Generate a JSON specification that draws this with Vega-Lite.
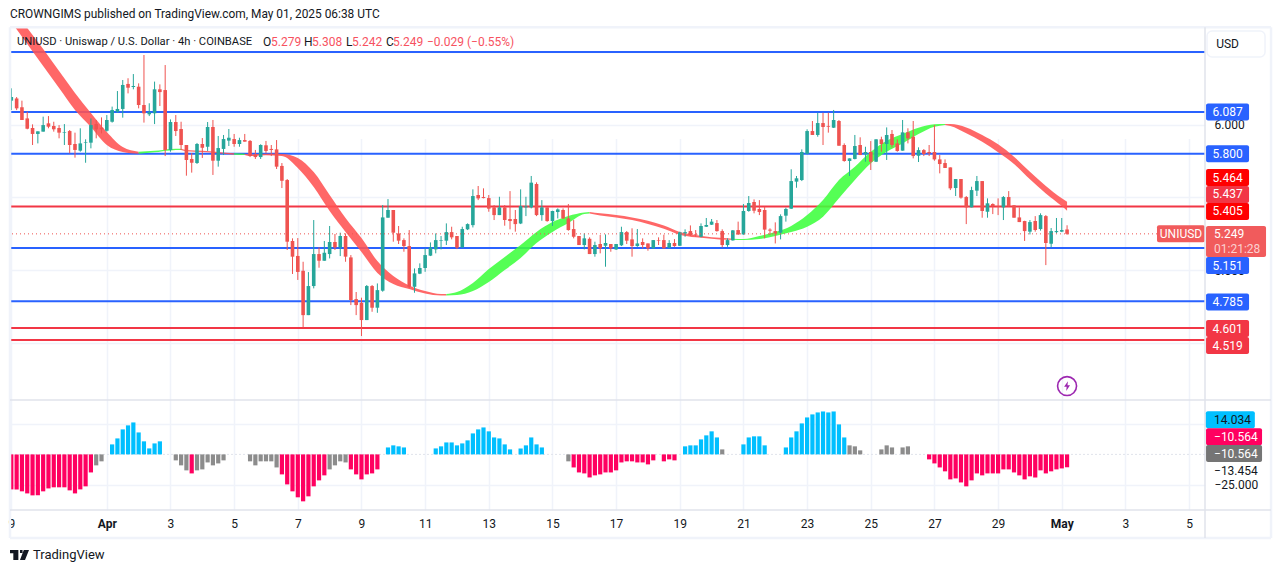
{
"$schema":"https://vega.github.io/schema/vega-lite/v6.json",
"autosize":"none",
"width":1195,
"height":482,
"padding":{"left":10,"top":28,"right":76,"bottom":63},
"background":"#ffffff",
"config":{"font":"Roboto","view":{"stroke":null},"text":{"fontSize":12,"color":"#131722"}},
"data":{"values":[{}]},
"datasets":{
"levels":[
{"price":6.5,"kind":"blue"},{"price":6.087,"kind":"blue"},{"price":5.8,"kind":"blue"},{"price":5.437,"kind":"red"},{"price":5.151,"kind":"blue"},{"price":4.785,"kind":"blue"},{"price":4.601,"kind":"red"},{"price":4.519,"kind":"red"}],
"tags":[
{"label":"6.087","at":6.087,"kind":"blue"},{"label":"5.800","at":5.8,"kind":"blue"},{"label":"5.464","at":5.6365,"kind":"bright"},{"label":"5.437","at":5.52,"kind":"red"},{"label":"5.405","at":5.403,"kind":"bright"},{"label":"5.151","at":5.031,"kind":"blue"},{"label":"4.785","at":4.78,"kind":"blue"},{"label":"4.601","at":4.598,"kind":"red"},{"label":"4.519","at":4.481,"kind":"red"}],
"ribbon":[
{"t":"2025-03-29T00:00Z","upper":6.809,"lower":6.706,"seg":1,"dir":"down"},
{"t":"2025-03-29T12:00Z","upper":6.665,"lower":6.555,"seg":1,"dir":"down"},
{"t":"2025-03-30T00:00Z","upper":6.52,"lower":6.403,"seg":1,"dir":"down"},
{"t":"2025-03-30T12:00Z","upper":6.369,"lower":6.252,"seg":1,"dir":"down"},
{"t":"2025-03-31T00:00Z","upper":6.218,"lower":6.101,"seg":1,"dir":"down"},
{"t":"2025-03-31T12:00Z","upper":6.08,"lower":5.984,"seg":1,"dir":"down"},
{"t":"2025-04-01T00:00Z","upper":5.95,"lower":5.86,"seg":1,"dir":"down"},
{"t":"2025-04-01T12:00Z","upper":5.846,"lower":5.812,"seg":1,"dir":"down"},
{"t":"2025-04-02T00:00Z","upper":5.814,"lower":5.8,"seg":1,"dir":"down"},
{"t":"2025-04-02T00:00Z","upper":5.814,"lower":5.8,"seg":2,"dir":"up"},
{"t":"2025-04-02T12:00Z","upper":5.82,"lower":5.81,"seg":2,"dir":"up"},
{"t":"2025-04-03T00:00Z","upper":5.833,"lower":5.823,"seg":2,"dir":"up"},
{"t":"2025-04-03T08:00Z","upper":5.835,"lower":5.825,"seg":2,"dir":"up"},
{"t":"2025-04-03T08:00Z","upper":5.835,"lower":5.825,"seg":3,"dir":"down"},
{"t":"2025-04-03T12:00Z","upper":5.826,"lower":5.817,"seg":3,"dir":"down"},
{"t":"2025-04-04T00:00Z","upper":5.82,"lower":5.812,"seg":3,"dir":"down"},
{"t":"2025-04-04T12:00Z","upper":5.812,"lower":5.803,"seg":3,"dir":"down"},
{"t":"2025-04-05T00:00Z","upper":5.803,"lower":5.793,"seg":3,"dir":"down"},
{"t":"2025-04-05T00:00Z","upper":5.803,"lower":5.793,"seg":4,"dir":"up"},
{"t":"2025-04-05T08:00Z","upper":5.8,"lower":5.791,"seg":4,"dir":"up"},
{"t":"2025-04-05T08:00Z","upper":5.8,"lower":5.791,"seg":5,"dir":"down"},
{"t":"2025-04-05T12:00Z","upper":5.795,"lower":5.784,"seg":5,"dir":"down"},
{"t":"2025-04-06T00:00Z","upper":5.8,"lower":5.789,"seg":5,"dir":"down"},
{"t":"2025-04-06T12:00Z","upper":5.798,"lower":5.784,"seg":5,"dir":"down"},
{"t":"2025-04-07T00:00Z","upper":5.771,"lower":5.702,"seg":5,"dir":"down"},
{"t":"2025-04-07T12:00Z","upper":5.674,"lower":5.571,"seg":5,"dir":"down"},
{"t":"2025-04-08T00:00Z","upper":5.516,"lower":5.406,"seg":5,"dir":"down"},
{"t":"2025-04-08T12:00Z","upper":5.358,"lower":5.262,"seg":5,"dir":"down"},
{"t":"2025-04-09T00:00Z","upper":5.22,"lower":5.124,"seg":5,"dir":"down"},
{"t":"2025-04-09T12:00Z","upper":5.062,"lower":4.98,"seg":5,"dir":"down"},
{"t":"2025-04-10T00:00Z","upper":4.959,"lower":4.904,"seg":5,"dir":"down"},
{"t":"2025-04-10T12:00Z","upper":4.894,"lower":4.87,"seg":5,"dir":"down"},
{"t":"2025-04-11T00:00Z","upper":4.856,"lower":4.839,"seg":5,"dir":"down"},
{"t":"2025-04-11T12:00Z","upper":4.835,"lower":4.825,"seg":5,"dir":"down"},
{"t":"2025-04-11T16:00Z","upper":4.835,"lower":4.825,"seg":5,"dir":"down"},
{"t":"2025-04-11T16:00Z","upper":4.835,"lower":4.825,"seg":6,"dir":"up"},
{"t":"2025-04-12T00:00Z","upper":4.849,"lower":4.828,"seg":6,"dir":"up"},
{"t":"2025-04-12T12:00Z","upper":4.911,"lower":4.856,"seg":6,"dir":"up"},
{"t":"2025-04-13T00:00Z","upper":5.007,"lower":4.918,"seg":6,"dir":"up"},
{"t":"2025-04-13T12:00Z","upper":5.09,"lower":5.0,"seg":6,"dir":"up"},
{"t":"2025-04-14T00:00Z","upper":5.172,"lower":5.083,"seg":6,"dir":"up"},
{"t":"2025-04-14T12:00Z","upper":5.262,"lower":5.186,"seg":6,"dir":"up"},
{"t":"2025-04-15T00:00Z","upper":5.33,"lower":5.262,"seg":6,"dir":"up"},
{"t":"2025-04-15T12:00Z","upper":5.372,"lower":5.323,"seg":6,"dir":"up"},
{"t":"2025-04-16T00:00Z","upper":5.396,"lower":5.385,"seg":6,"dir":"up"},
{"t":"2025-04-16T04:00Z","upper":5.399,"lower":5.389,"seg":6,"dir":"up"},
{"t":"2025-04-16T04:00Z","upper":5.399,"lower":5.389,"seg":7,"dir":"down"},
{"t":"2025-04-16T12:00Z","upper":5.39,"lower":5.376,"seg":7,"dir":"down"},
{"t":"2025-04-17T00:00Z","upper":5.378,"lower":5.362,"seg":7,"dir":"down"},
{"t":"2025-04-17T12:00Z","upper":5.362,"lower":5.344,"seg":7,"dir":"down"},
{"t":"2025-04-18T00:00Z","upper":5.339,"lower":5.317,"seg":7,"dir":"down"},
{"t":"2025-04-18T12:00Z","upper":5.307,"lower":5.284,"seg":7,"dir":"down"},
{"t":"2025-04-19T00:00Z","upper":5.262,"lower":5.243,"seg":7,"dir":"down"},
{"t":"2025-04-19T12:00Z","upper":5.241,"lower":5.225,"seg":7,"dir":"down"},
{"t":"2025-04-20T00:00Z","upper":5.225,"lower":5.216,"seg":7,"dir":"down"},
{"t":"2025-04-20T12:00Z","upper":5.218,"lower":5.209,"seg":7,"dir":"down"},
{"t":"2025-04-20T16:00Z","upper":5.216,"lower":5.209,"seg":7,"dir":"down"},
{"t":"2025-04-20T16:00Z","upper":5.216,"lower":5.209,"seg":8,"dir":"up"},
{"t":"2025-04-21T00:00Z","upper":5.213,"lower":5.206,"seg":8,"dir":"up"},
{"t":"2025-04-21T12:00Z","upper":5.234,"lower":5.213,"seg":8,"dir":"up"},
{"t":"2025-04-22T00:00Z","upper":5.261,"lower":5.234,"seg":8,"dir":"up"},
{"t":"2025-04-22T12:00Z","upper":5.303,"lower":5.261,"seg":8,"dir":"up"},
{"t":"2025-04-23T00:00Z","upper":5.378,"lower":5.298,"seg":8,"dir":"up"},
{"t":"2025-04-23T12:00Z","upper":5.482,"lower":5.367,"seg":8,"dir":"up"},
{"t":"2025-04-24T00:00Z","upper":5.619,"lower":5.493,"seg":8,"dir":"up"},
{"t":"2025-04-24T12:00Z","upper":5.711,"lower":5.619,"seg":8,"dir":"up"},
{"t":"2025-04-25T00:00Z","upper":5.814,"lower":5.734,"seg":8,"dir":"up"},
{"t":"2025-04-25T12:00Z","upper":5.89,"lower":5.814,"seg":8,"dir":"up"},
{"t":"2025-04-26T00:00Z","upper":5.936,"lower":5.871,"seg":8,"dir":"up"},
{"t":"2025-04-26T12:00Z","upper":5.979,"lower":5.936,"seg":8,"dir":"up"},
{"t":"2025-04-27T00:00Z","upper":6.002,"lower":5.986,"seg":8,"dir":"up"},
{"t":"2025-04-27T08:00Z","upper":6.004,"lower":5.998,"seg":8,"dir":"up"},
{"t":"2025-04-27T08:00Z","upper":6.004,"lower":5.998,"seg":9,"dir":"down"},
{"t":"2025-04-27T12:00Z","upper":6.004,"lower":5.991,"seg":9,"dir":"down"},
{"t":"2025-04-28T00:00Z","upper":5.981,"lower":5.94,"seg":9,"dir":"down"},
{"t":"2025-04-28T12:00Z","upper":5.929,"lower":5.883,"seg":9,"dir":"down"},
{"t":"2025-04-29T00:00Z","upper":5.865,"lower":5.81,"seg":9,"dir":"down"},
{"t":"2025-04-29T12:00Z","upper":5.78,"lower":5.729,"seg":9,"dir":"down"},
{"t":"2025-04-30T00:00Z","upper":5.676,"lower":5.624,"seg":9,"dir":"down"},
{"t":"2025-04-30T12:00Z","upper":5.578,"lower":5.527,"seg":9,"dir":"down"},
{"t":"2025-05-01T00:00Z","upper":5.493,"lower":5.44,"seg":9,"dir":"down"},
{"t":"2025-05-01T04:00Z","upper":5.47,"lower":5.408,"seg":9,"dir":"down"}],
"candles":[
{"t":"2025-03-29T00:00Z","o":6.165,"h":6.25,"l":6.1,"c":6.19},
{"t":"2025-03-29T04:00Z","o":6.18,"h":6.19,"l":6.1,"c":6.112},
{"t":"2025-03-29T08:00Z","o":6.119,"h":6.165,"l":6.032,"c":6.032},
{"t":"2025-03-29T12:00Z","o":6.043,"h":6.089,"l":5.968,"c":5.972},
{"t":"2025-03-29T16:00Z","o":5.977,"h":6.002,"l":5.86,"c":5.936},
{"t":"2025-03-29T20:00Z","o":5.936,"h":5.954,"l":5.871,"c":5.954},
{"t":"2025-03-30T00:00Z","o":5.952,"h":6.055,"l":5.952,"c":5.997},
{"t":"2025-03-30T04:00Z","o":6.009,"h":6.059,"l":5.975,"c":5.986},
{"t":"2025-03-30T08:00Z","o":5.991,"h":6.02,"l":5.952,"c":5.968},
{"t":"2025-03-30T12:00Z","o":5.977,"h":5.997,"l":5.906,"c":5.945},
{"t":"2025-03-30T16:00Z","o":5.945,"h":6.004,"l":5.86,"c":5.949},
{"t":"2025-03-30T20:00Z","o":5.956,"h":5.963,"l":5.803,"c":5.86},
{"t":"2025-03-31T00:00Z","o":5.867,"h":5.945,"l":5.773,"c":5.826},
{"t":"2025-03-31T04:00Z","o":5.821,"h":5.975,"l":5.814,"c":5.871},
{"t":"2025-03-31T08:00Z","o":5.874,"h":5.899,"l":5.738,"c":5.878},
{"t":"2025-03-31T12:00Z","o":5.876,"h":6.043,"l":5.837,"c":5.997},
{"t":"2025-03-31T16:00Z","o":6.004,"h":6.032,"l":5.906,"c":5.968},
{"t":"2025-03-31T20:00Z","o":5.979,"h":6.05,"l":5.94,"c":5.968},
{"t":"2025-04-01T00:00Z","o":5.958,"h":6.066,"l":5.952,"c":6.032},
{"t":"2025-04-01T04:00Z","o":6.02,"h":6.124,"l":6.014,"c":6.101},
{"t":"2025-04-01T08:00Z","o":6.089,"h":6.231,"l":6.082,"c":6.108},
{"t":"2025-04-01T12:00Z","o":6.108,"h":6.307,"l":6.048,"c":6.273},
{"t":"2025-04-01T16:00Z","o":6.28,"h":6.319,"l":6.215,"c":6.254},
{"t":"2025-04-01T20:00Z","o":6.259,"h":6.348,"l":6.243,"c":6.266},
{"t":"2025-04-02T00:00Z","o":6.261,"h":6.284,"l":6.112,"c":6.135},
{"t":"2025-04-02T04:00Z","o":6.135,"h":6.479,"l":6.014,"c":6.078},
{"t":"2025-04-02T08:00Z","o":6.071,"h":6.147,"l":6.059,"c":6.085},
{"t":"2025-04-02T12:00Z","o":6.078,"h":6.296,"l":6.004,"c":6.243},
{"t":"2025-04-02T16:00Z","o":6.243,"h":6.277,"l":6.128,"c":6.224},
{"t":"2025-04-02T20:00Z","o":6.238,"h":6.41,"l":5.784,"c":5.826},
{"t":"2025-04-03T00:00Z","o":5.826,"h":6.036,"l":5.814,"c":6.018},
{"t":"2025-04-03T04:00Z","o":6.018,"h":6.066,"l":5.922,"c":5.956},
{"t":"2025-04-03T08:00Z","o":5.97,"h":6.02,"l":5.826,"c":5.86},
{"t":"2025-04-03T12:00Z","o":5.86,"h":5.86,"l":5.649,"c":5.757},
{"t":"2025-04-03T16:00Z","o":5.764,"h":5.805,"l":5.67,"c":5.738},
{"t":"2025-04-03T20:00Z","o":5.736,"h":5.874,"l":5.73,"c":5.867},
{"t":"2025-04-04T00:00Z","o":5.867,"h":5.908,"l":5.771,"c":5.841},
{"t":"2025-04-04T04:00Z","o":5.848,"h":6.018,"l":5.819,"c":5.984},
{"t":"2025-04-04T08:00Z","o":5.984,"h":6.032,"l":5.654,"c":5.752},
{"t":"2025-04-04T12:00Z","o":5.752,"h":5.922,"l":5.711,"c":5.839},
{"t":"2025-04-04T16:00Z","o":5.833,"h":5.929,"l":5.791,"c":5.901},
{"t":"2025-04-04T20:00Z","o":5.89,"h":5.97,"l":5.853,"c":5.91},
{"t":"2025-04-05T00:00Z","o":5.901,"h":5.936,"l":5.848,"c":5.867},
{"t":"2025-04-05T04:00Z","o":5.867,"h":5.91,"l":5.848,"c":5.894},
{"t":"2025-04-05T08:00Z","o":5.894,"h":5.936,"l":5.883,"c":5.883},
{"t":"2025-04-05T12:00Z","o":5.888,"h":5.894,"l":5.777,"c":5.784},
{"t":"2025-04-05T16:00Z","o":5.796,"h":5.826,"l":5.764,"c":5.777},
{"t":"2025-04-05T20:00Z","o":5.777,"h":5.865,"l":5.764,"c":5.86},
{"t":"2025-04-06T00:00Z","o":5.858,"h":5.888,"l":5.805,"c":5.819},
{"t":"2025-04-06T04:00Z","o":5.833,"h":5.86,"l":5.784,"c":5.826},
{"t":"2025-04-06T08:00Z","o":5.83,"h":5.894,"l":5.695,"c":5.711},
{"t":"2025-04-06T12:00Z","o":5.716,"h":5.736,"l":5.564,"c":5.614},
{"t":"2025-04-06T16:00Z","o":5.619,"h":5.626,"l":5.138,"c":5.195},
{"t":"2025-04-06T20:00Z","o":5.2,"h":5.218,"l":4.973,"c":5.092},
{"t":"2025-04-07T00:00Z","o":5.097,"h":5.22,"l":4.932,"c":4.987},
{"t":"2025-04-07T04:00Z","o":4.995,"h":5.057,"l":4.606,"c":4.69},
{"t":"2025-04-07T08:00Z","o":4.69,"h":4.986,"l":4.69,"c":4.89},
{"t":"2025-04-07T12:00Z","o":4.89,"h":5.344,"l":4.874,"c":5.11},
{"t":"2025-04-07T16:00Z","o":5.11,"h":5.156,"l":5.016,"c":5.064},
{"t":"2025-04-07T20:00Z","o":5.064,"h":5.2,"l":5.064,"c":5.119},
{"t":"2025-04-08T00:00Z","o":5.11,"h":5.303,"l":5.08,"c":5.193},
{"t":"2025-04-08T04:00Z","o":5.193,"h":5.248,"l":5.138,"c":5.156},
{"t":"2025-04-08T08:00Z","o":5.156,"h":5.257,"l":5.096,"c":5.234},
{"t":"2025-04-08T12:00Z","o":5.234,"h":5.252,"l":5.057,"c":5.092},
{"t":"2025-04-08T16:00Z","o":5.087,"h":5.103,"l":4.759,"c":4.794},
{"t":"2025-04-08T20:00Z","o":4.8,"h":4.849,"l":4.69,"c":4.759},
{"t":"2025-04-09T00:00Z","o":4.775,"h":4.81,"l":4.546,"c":4.656},
{"t":"2025-04-09T04:00Z","o":4.656,"h":4.897,"l":4.656,"c":4.89},
{"t":"2025-04-09T08:00Z","o":4.89,"h":4.897,"l":4.713,"c":4.741},
{"t":"2025-04-09T12:00Z","o":4.741,"h":4.908,"l":4.706,"c":4.862},
{"t":"2025-04-09T16:00Z","o":4.858,"h":5.447,"l":4.851,"c":5.362},
{"t":"2025-04-09T20:00Z","o":5.36,"h":5.488,"l":5.36,"c":5.413},
{"t":"2025-04-10T00:00Z","o":5.413,"h":5.413,"l":5.195,"c":5.257},
{"t":"2025-04-10T04:00Z","o":5.252,"h":5.303,"l":5.179,"c":5.202},
{"t":"2025-04-10T08:00Z","o":5.206,"h":5.218,"l":5.126,"c":5.165},
{"t":"2025-04-10T12:00Z","o":5.165,"h":5.275,"l":4.874,"c":4.885},
{"t":"2025-04-10T16:00Z","o":4.885,"h":5.011,"l":4.844,"c":4.977},
{"t":"2025-04-10T20:00Z","o":4.975,"h":5.046,"l":4.972,"c":5.014},
{"t":"2025-04-11T00:00Z","o":5.014,"h":5.149,"l":4.988,"c":5.103},
{"t":"2025-04-11T04:00Z","o":5.099,"h":5.19,"l":5.096,"c":5.156},
{"t":"2025-04-11T08:00Z","o":5.142,"h":5.252,"l":5.115,"c":5.206},
{"t":"2025-04-11T12:00Z","o":5.202,"h":5.234,"l":5.142,"c":5.206},
{"t":"2025-04-11T16:00Z","o":5.202,"h":5.321,"l":5.172,"c":5.261},
{"t":"2025-04-11T20:00Z","o":5.261,"h":5.298,"l":5.211,"c":5.225},
{"t":"2025-04-12T00:00Z","o":5.234,"h":5.234,"l":5.144,"c":5.154},
{"t":"2025-04-12T04:00Z","o":5.156,"h":5.298,"l":5.154,"c":5.282},
{"t":"2025-04-12T08:00Z","o":5.28,"h":5.321,"l":5.275,"c":5.316},
{"t":"2025-04-12T12:00Z","o":5.309,"h":5.555,"l":5.293,"c":5.509},
{"t":"2025-04-12T16:00Z","o":5.516,"h":5.578,"l":5.481,"c":5.493},
{"t":"2025-04-12T20:00Z","o":5.502,"h":5.562,"l":5.493,"c":5.495},
{"t":"2025-04-13T00:00Z","o":5.495,"h":5.516,"l":5.401,"c":5.422},
{"t":"2025-04-13T04:00Z","o":5.431,"h":5.447,"l":5.344,"c":5.378},
{"t":"2025-04-13T08:00Z","o":5.378,"h":5.504,"l":5.378,"c":5.431},
{"t":"2025-04-13T12:00Z","o":5.431,"h":5.447,"l":5.305,"c":5.344},
{"t":"2025-04-13T16:00Z","o":5.351,"h":5.543,"l":5.28,"c":5.337},
{"t":"2025-04-13T20:00Z","o":5.351,"h":5.413,"l":5.264,"c":5.316},
{"t":"2025-04-14T00:00Z","o":5.321,"h":5.555,"l":5.316,"c":5.44},
{"t":"2025-04-14T04:00Z","o":5.431,"h":5.504,"l":5.371,"c":5.438},
{"t":"2025-04-14T08:00Z","o":5.431,"h":5.647,"l":5.424,"c":5.601},
{"t":"2025-04-14T12:00Z","o":5.592,"h":5.603,"l":5.371,"c":5.378},
{"t":"2025-04-14T16:00Z","o":5.378,"h":5.481,"l":5.339,"c":5.431},
{"t":"2025-04-14T20:00Z","o":5.431,"h":5.431,"l":5.332,"c":5.337},
{"t":"2025-04-15T00:00Z","o":5.337,"h":5.408,"l":5.303,"c":5.406},
{"t":"2025-04-15T04:00Z","o":5.399,"h":5.424,"l":5.355,"c":5.417},
{"t":"2025-04-15T08:00Z","o":5.413,"h":5.424,"l":5.351,"c":5.355},
{"t":"2025-04-15T12:00Z","o":5.355,"h":5.454,"l":5.271,"c":5.275},
{"t":"2025-04-15T16:00Z","o":5.282,"h":5.344,"l":5.218,"c":5.229},
{"t":"2025-04-15T20:00Z","o":5.234,"h":5.234,"l":5.172,"c":5.172},
{"t":"2025-04-16T00:00Z","o":5.172,"h":5.252,"l":5.142,"c":5.218},
{"t":"2025-04-16T04:00Z","o":5.215,"h":5.225,"l":5.11,"c":5.11},
{"t":"2025-04-16T08:00Z","o":5.11,"h":5.195,"l":5.092,"c":5.172},
{"t":"2025-04-16T12:00Z","o":5.179,"h":5.241,"l":5.115,"c":5.149},
{"t":"2025-04-16T16:00Z","o":5.167,"h":5.245,"l":5.023,"c":5.186},
{"t":"2025-04-16T20:00Z","o":5.179,"h":5.179,"l":5.126,"c":5.149},
{"t":"2025-04-17T00:00Z","o":5.142,"h":5.179,"l":5.138,"c":5.179},
{"t":"2025-04-17T04:00Z","o":5.17,"h":5.298,"l":5.165,"c":5.261},
{"t":"2025-04-17T08:00Z","o":5.261,"h":5.268,"l":5.179,"c":5.202},
{"t":"2025-04-17T12:00Z","o":5.211,"h":5.287,"l":5.092,"c":5.165},
{"t":"2025-04-17T16:00Z","o":5.165,"h":5.282,"l":5.16,"c":5.183},
{"t":"2025-04-17T20:00Z","o":5.193,"h":5.218,"l":5.149,"c":5.172},
{"t":"2025-04-18T00:00Z","o":5.183,"h":5.183,"l":5.133,"c":5.149},
{"t":"2025-04-18T04:00Z","o":5.149,"h":5.206,"l":5.149,"c":5.206},
{"t":"2025-04-18T08:00Z","o":5.206,"h":5.225,"l":5.172,"c":5.202},
{"t":"2025-04-18T12:00Z","o":5.206,"h":5.243,"l":5.149,"c":5.149},
{"t":"2025-04-18T16:00Z","o":5.154,"h":5.206,"l":5.149,"c":5.186},
{"t":"2025-04-18T20:00Z","o":5.186,"h":5.213,"l":5.16,"c":5.165},
{"t":"2025-04-19T00:00Z","o":5.167,"h":5.264,"l":5.165,"c":5.259},
{"t":"2025-04-19T04:00Z","o":5.252,"h":5.28,"l":5.229,"c":5.261},
{"t":"2025-04-19T08:00Z","o":5.268,"h":5.307,"l":5.234,"c":5.241},
{"t":"2025-04-19T12:00Z","o":5.245,"h":5.275,"l":5.229,"c":5.241},
{"t":"2025-04-19T16:00Z","o":5.229,"h":5.321,"l":5.225,"c":5.303},
{"t":"2025-04-19T20:00Z","o":5.298,"h":5.358,"l":5.296,"c":5.31},
{"t":"2025-04-20T00:00Z","o":5.312,"h":5.351,"l":5.31,"c":5.333},
{"t":"2025-04-20T04:00Z","o":5.323,"h":5.344,"l":5.264,"c":5.268},
{"t":"2025-04-20T08:00Z","o":5.268,"h":5.28,"l":5.156,"c":5.172},
{"t":"2025-04-20T12:00Z","o":5.172,"h":5.218,"l":5.16,"c":5.206},
{"t":"2025-04-20T16:00Z","o":5.204,"h":5.275,"l":5.202,"c":5.273},
{"t":"2025-04-20T20:00Z","o":5.275,"h":5.333,"l":5.241,"c":5.245},
{"t":"2025-04-21T00:00Z","o":5.245,"h":5.454,"l":5.243,"c":5.406},
{"t":"2025-04-21T04:00Z","o":5.406,"h":5.509,"l":5.401,"c":5.461},
{"t":"2025-04-21T08:00Z","o":5.468,"h":5.486,"l":5.39,"c":5.408},
{"t":"2025-04-21T12:00Z","o":5.42,"h":5.481,"l":5.378,"c":5.399},
{"t":"2025-04-21T16:00Z","o":5.413,"h":5.436,"l":5.218,"c":5.278},
{"t":"2025-04-21T20:00Z","o":5.278,"h":5.287,"l":5.241,"c":5.271},
{"t":"2025-04-22T00:00Z","o":5.268,"h":5.328,"l":5.183,"c":5.252},
{"t":"2025-04-22T04:00Z","o":5.257,"h":5.383,"l":5.211,"c":5.371},
{"t":"2025-04-22T08:00Z","o":5.374,"h":5.429,"l":5.333,"c":5.42},
{"t":"2025-04-22T12:00Z","o":5.422,"h":5.693,"l":5.42,"c":5.612},
{"t":"2025-04-22T16:00Z","o":5.608,"h":5.647,"l":5.566,"c":5.631},
{"t":"2025-04-22T20:00Z","o":5.619,"h":5.83,"l":5.612,"c":5.812},
{"t":"2025-04-23T00:00Z","o":5.8,"h":5.968,"l":5.796,"c":5.956},
{"t":"2025-04-23T04:00Z","o":5.956,"h":6.025,"l":5.929,"c":5.929},
{"t":"2025-04-23T08:00Z","o":5.929,"h":6.082,"l":5.917,"c":6.011},
{"t":"2025-04-23T12:00Z","o":6.011,"h":6.082,"l":5.86,"c":5.984},
{"t":"2025-04-23T16:00Z","o":5.991,"h":6.082,"l":5.945,"c":5.986},
{"t":"2025-04-23T20:00Z","o":5.979,"h":6.101,"l":5.977,"c":6.032},
{"t":"2025-04-24T00:00Z","o":6.025,"h":6.032,"l":5.855,"c":5.855},
{"t":"2025-04-24T04:00Z","o":5.86,"h":5.871,"l":5.745,"c":5.75},
{"t":"2025-04-24T08:00Z","o":5.75,"h":5.768,"l":5.647,"c":5.768},
{"t":"2025-04-24T12:00Z","o":5.764,"h":5.929,"l":5.761,"c":5.853},
{"t":"2025-04-24T16:00Z","o":5.86,"h":5.913,"l":5.791,"c":5.791},
{"t":"2025-04-24T20:00Z","o":5.796,"h":5.848,"l":5.745,"c":5.812},
{"t":"2025-04-25T00:00Z","o":5.812,"h":5.887,"l":5.688,"c":5.745},
{"t":"2025-04-25T04:00Z","o":5.745,"h":5.9,"l":5.743,"c":5.899},
{"t":"2025-04-25T08:00Z","o":5.899,"h":5.917,"l":5.814,"c":5.867},
{"t":"2025-04-25T12:00Z","o":5.867,"h":5.981,"l":5.757,"c":5.929},
{"t":"2025-04-25T16:00Z","o":5.936,"h":5.963,"l":5.844,"c":5.86},
{"t":"2025-04-25T20:00Z","o":5.871,"h":5.899,"l":5.814,"c":5.819},
{"t":"2025-04-26T00:00Z","o":5.821,"h":6.032,"l":5.821,"c":5.947},
{"t":"2025-04-26T04:00Z","o":5.947,"h":5.975,"l":5.871,"c":5.906},
{"t":"2025-04-26T08:00Z","o":5.917,"h":6.025,"l":5.768,"c":5.784},
{"t":"2025-04-26T12:00Z","o":5.786,"h":5.844,"l":5.743,"c":5.825},
{"t":"2025-04-26T16:00Z","o":5.825,"h":5.832,"l":5.784,"c":5.798},
{"t":"2025-04-26T20:00Z","o":5.812,"h":5.86,"l":5.784,"c":5.803},
{"t":"2025-04-27T00:00Z","o":5.812,"h":5.998,"l":5.752,"c":5.761},
{"t":"2025-04-27T04:00Z","o":5.761,"h":5.791,"l":5.665,"c":5.729},
{"t":"2025-04-27T08:00Z","o":5.736,"h":5.761,"l":5.702,"c":5.702},
{"t":"2025-04-27T12:00Z","o":5.706,"h":5.706,"l":5.55,"c":5.562},
{"t":"2025-04-27T16:00Z","o":5.564,"h":5.626,"l":5.509,"c":5.626},
{"t":"2025-04-27T20:00Z","o":5.626,"h":5.626,"l":5.491,"c":5.498},
{"t":"2025-04-28T00:00Z","o":5.502,"h":5.509,"l":5.316,"c":5.431},
{"t":"2025-04-28T04:00Z","o":5.431,"h":5.573,"l":5.431,"c":5.55},
{"t":"2025-04-28T08:00Z","o":5.546,"h":5.647,"l":5.509,"c":5.612},
{"t":"2025-04-28T12:00Z","o":5.612,"h":5.612,"l":5.36,"c":5.406},
{"t":"2025-04-28T16:00Z","o":5.401,"h":5.493,"l":5.36,"c":5.459},
{"t":"2025-04-28T20:00Z","o":5.454,"h":5.459,"l":5.385,"c":5.44},
{"t":"2025-04-29T00:00Z","o":5.44,"h":5.493,"l":5.378,"c":5.436},
{"t":"2025-04-29T04:00Z","o":5.431,"h":5.509,"l":5.344,"c":5.502},
{"t":"2025-04-29T08:00Z","o":5.502,"h":5.543,"l":5.436,"c":5.44},
{"t":"2025-04-29T12:00Z","o":5.445,"h":5.447,"l":5.36,"c":5.36},
{"t":"2025-04-29T16:00Z","o":5.362,"h":5.431,"l":5.33,"c":5.33},
{"t":"2025-04-29T20:00Z","o":5.337,"h":5.339,"l":5.2,"c":5.268},
{"t":"2025-04-30T00:00Z","o":5.264,"h":5.344,"l":5.245,"c":5.33},
{"t":"2025-04-30T04:00Z","o":5.337,"h":5.371,"l":5.264,"c":5.275},
{"t":"2025-04-30T08:00Z","o":5.282,"h":5.39,"l":5.271,"c":5.378},
{"t":"2025-04-30T12:00Z","o":5.371,"h":5.378,"l":5.034,"c":5.186},
{"t":"2025-04-30T16:00Z","o":5.181,"h":5.289,"l":5.156,"c":5.268},
{"t":"2025-04-30T20:00Z","o":5.261,"h":5.358,"l":5.252,"c":5.268},
{"t":"2025-05-01T00:00Z","o":5.264,"h":5.358,"l":5.261,"c":5.275},
{"t":"2025-05-01T04:00Z","o":5.279,"h":5.308,"l":5.242,"c":5.249}],
"hist":[
{"t":"2025-03-29T00:00Z","v":-28.7,"kind":"down"},{"t":"2025-03-29T04:00Z","v":-28.7,"kind":"down"},{"t":"2025-03-29T08:00Z","v":-30.3,"kind":"down"},{"t":"2025-03-29T12:00Z","v":-32,"kind":"down"},{"t":"2025-03-29T16:00Z","v":-33.6,"kind":"down"},{"t":"2025-03-29T20:00Z","v":-33.6,"kind":"down"},
{"t":"2025-03-30T00:00Z","v":-30.3,"kind":"down"},{"t":"2025-03-30T04:00Z","v":-27.9,"kind":"down"},{"t":"2025-03-30T08:00Z","v":-27,"kind":"down"},{"t":"2025-03-30T12:00Z","v":-27,"kind":"down"},{"t":"2025-03-30T16:00Z","v":-27,"kind":"down"},{"t":"2025-03-30T20:00Z","v":-29.5,"kind":"down"},
{"t":"2025-03-31T00:00Z","v":-32,"kind":"down"},{"t":"2025-03-31T04:00Z","v":-28.7,"kind":"down"},{"t":"2025-03-31T08:00Z","v":-26.2,"kind":"down"},{"t":"2025-03-31T12:00Z","v":-14.8,"kind":"down"},{"t":"2025-03-31T16:00Z","v":-9,"kind":"flat"},{"t":"2025-03-31T20:00Z","v":-5.7,"kind":"flat"},
{"t":"2025-04-01T04:00Z","v":8.2,"kind":"up"},{"t":"2025-04-01T08:00Z","v":13.1,"kind":"up"},{"t":"2025-04-01T12:00Z","v":20.5,"kind":"up"},{"t":"2025-04-01T16:00Z","v":23.8,"kind":"up"},{"t":"2025-04-01T20:00Z","v":26.2,"kind":"up"},
{"t":"2025-04-02T00:00Z","v":18,"kind":"up"},{"t":"2025-04-02T04:00Z","v":10.7,"kind":"up"},{"t":"2025-04-02T08:00Z","v":4.9,"kind":"up"},{"t":"2025-04-02T12:00Z","v":9,"kind":"up"},{"t":"2025-04-02T16:00Z","v":10.7,"kind":"up"},
{"t":"2025-04-03T04:00Z","v":-4.9,"kind":"flat"},{"t":"2025-04-03T08:00Z","v":-9,"kind":"flat"},{"t":"2025-04-03T12:00Z","v":-13.1,"kind":"flat"},{"t":"2025-04-03T16:00Z","v":-15.6,"kind":"down"},{"t":"2025-04-03T20:00Z","v":-13.1,"kind":"flat"},
{"t":"2025-04-04T00:00Z","v":-12.3,"kind":"flat"},{"t":"2025-04-04T04:00Z","v":-6.6,"kind":"flat"},{"t":"2025-04-04T08:00Z","v":-9,"kind":"flat"},{"t":"2025-04-04T12:00Z","v":-7.4,"kind":"flat"},{"t":"2025-04-04T16:00Z","v":-4.9,"kind":"flat"},
{"t":"2025-04-05T12:00Z","v":-5.7,"kind":"flat"},{"t":"2025-04-05T16:00Z","v":-9,"kind":"flat"},{"t":"2025-04-05T20:00Z","v":-5.7,"kind":"flat"},
{"t":"2025-04-06T00:00Z","v":-5.7,"kind":"flat"},{"t":"2025-04-06T04:00Z","v":-5.7,"kind":"flat"},{"t":"2025-04-06T08:00Z","v":-10.7,"kind":"flat"},{"t":"2025-04-06T12:00Z","v":-16.4,"kind":"down"},{"t":"2025-04-06T16:00Z","v":-24.6,"kind":"down"},{"t":"2025-04-06T20:00Z","v":-30.3,"kind":"down"},
{"t":"2025-04-07T00:00Z","v":-35.2,"kind":"down"},{"t":"2025-04-07T04:00Z","v":-38.5,"kind":"down"},{"t":"2025-04-07T08:00Z","v":-34.4,"kind":"down"},{"t":"2025-04-07T12:00Z","v":-26.2,"kind":"down"},{"t":"2025-04-07T16:00Z","v":-21.3,"kind":"down"},{"t":"2025-04-07T20:00Z","v":-17.2,"kind":"down"},
{"t":"2025-04-08T00:00Z","v":-12.3,"kind":"flat"},{"t":"2025-04-08T04:00Z","v":-9,"kind":"flat"},{"t":"2025-04-08T08:00Z","v":-5.7,"kind":"flat"},{"t":"2025-04-08T12:00Z","v":-6.6,"kind":"flat"},{"t":"2025-04-08T16:00Z","v":-12.3,"kind":"down"},{"t":"2025-04-08T20:00Z","v":-16.4,"kind":"down"},
{"t":"2025-04-09T00:00Z","v":-20.5,"kind":"down"},{"t":"2025-04-09T04:00Z","v":-16.4,"kind":"down"},{"t":"2025-04-09T08:00Z","v":-15.6,"kind":"down"},{"t":"2025-04-09T12:00Z","v":-12.3,"kind":"down"},
{"t":"2025-04-09T20:00Z","v":5.7,"kind":"up"},{"t":"2025-04-10T00:00Z","v":7.4,"kind":"up"},{"t":"2025-04-10T04:00Z","v":6.6,"kind":"up"},{"t":"2025-04-10T08:00Z","v":5.7,"kind":"up"},
{"t":"2025-04-11T08:00Z","v":4.9,"kind":"up"},{"t":"2025-04-11T12:00Z","v":6.6,"kind":"up"},{"t":"2025-04-11T16:00Z","v":9.8,"kind":"up"},{"t":"2025-04-11T20:00Z","v":9.8,"kind":"up"},
{"t":"2025-04-12T00:00Z","v":7.4,"kind":"up"},{"t":"2025-04-12T04:00Z","v":9,"kind":"up"},{"t":"2025-04-12T08:00Z","v":11.5,"kind":"up"},{"t":"2025-04-12T12:00Z","v":17.2,"kind":"up"},{"t":"2025-04-12T16:00Z","v":20.5,"kind":"up"},{"t":"2025-04-12T20:00Z","v":22.1,"kind":"up"},
{"t":"2025-04-13T00:00Z","v":18.9,"kind":"up"},{"t":"2025-04-13T04:00Z","v":13.9,"kind":"up"},{"t":"2025-04-13T08:00Z","v":13.1,"kind":"up"},{"t":"2025-04-13T12:00Z","v":8.2,"kind":"up"},{"t":"2025-04-13T16:00Z","v":4.1,"kind":"up"},
{"t":"2025-04-14T00:00Z","v":4.9,"kind":"up"},{"t":"2025-04-14T04:00Z","v":7.4,"kind":"up"},{"t":"2025-04-14T08:00Z","v":13.9,"kind":"up"},{"t":"2025-04-14T12:00Z","v":8.2,"kind":"up"},{"t":"2025-04-14T16:00Z","v":5.7,"kind":"up"},
{"t":"2025-04-15T12:00Z","v":-5.7,"kind":"flat"},{"t":"2025-04-15T16:00Z","v":-10.7,"kind":"down"},{"t":"2025-04-15T20:00Z","v":-14.8,"kind":"down"},
{"t":"2025-04-16T00:00Z","v":-15.6,"kind":"down"},{"t":"2025-04-16T04:00Z","v":-18.9,"kind":"down"},{"t":"2025-04-16T08:00Z","v":-17.2,"kind":"down"},{"t":"2025-04-16T12:00Z","v":-16.4,"kind":"down"},{"t":"2025-04-16T16:00Z","v":-14.8,"kind":"down"},{"t":"2025-04-16T20:00Z","v":-14.8,"kind":"down"},
{"t":"2025-04-17T00:00Z","v":-13.1,"kind":"down"},{"t":"2025-04-17T04:00Z","v":-6.6,"kind":"down"},{"t":"2025-04-17T08:00Z","v":-5.7,"kind":"down"},{"t":"2025-04-17T12:00Z","v":-5.7,"kind":"down"},{"t":"2025-04-17T16:00Z","v":-6.6,"kind":"down"},{"t":"2025-04-17T20:00Z","v":-6.6,"kind":"down"},
{"t":"2025-04-18T00:00Z","v":-8.2,"kind":"down"},{"t":"2025-04-18T04:00Z","v":-4.9,"kind":"down"},{"t":"2025-04-18T12:00Z","v":-5.7,"kind":"down"},{"t":"2025-04-18T16:00Z","v":-4.1,"kind":"down"},{"t":"2025-04-18T20:00Z","v":-4.9,"kind":"down"},
{"t":"2025-04-19T04:00Z","v":6.6,"kind":"up"},{"t":"2025-04-19T08:00Z","v":7.4,"kind":"up"},{"t":"2025-04-19T12:00Z","v":7.4,"kind":"up"},{"t":"2025-04-19T16:00Z","v":12.3,"kind":"up"},{"t":"2025-04-19T20:00Z","v":15.6,"kind":"up"},
{"t":"2025-04-20T00:00Z","v":18.9,"kind":"up"},{"t":"2025-04-20T04:00Z","v":13.9,"kind":"up"},{"t":"2025-04-20T08:00Z","v":4.1,"kind":"flat"},
{"t":"2025-04-21T00:00Z","v":8.2,"kind":"up"},{"t":"2025-04-21T04:00Z","v":13.9,"kind":"up"},{"t":"2025-04-21T08:00Z","v":14.8,"kind":"up"},{"t":"2025-04-21T12:00Z","v":14.8,"kind":"up"},{"t":"2025-04-21T16:00Z","v":7.4,"kind":"up"},
{"t":"2025-04-22T08:00Z","v":5.7,"kind":"up"},{"t":"2025-04-22T12:00Z","v":13.9,"kind":"up"},{"t":"2025-04-22T16:00Z","v":18.9,"kind":"up"},{"t":"2025-04-22T20:00Z","v":25.4,"kind":"up"},
{"t":"2025-04-23T00:00Z","v":30.3,"kind":"up"},{"t":"2025-04-23T04:00Z","v":32.8,"kind":"up"},{"t":"2025-04-23T08:00Z","v":34.4,"kind":"up"},{"t":"2025-04-23T12:00Z","v":35.2,"kind":"up"},{"t":"2025-04-23T16:00Z","v":34.4,"kind":"up"},{"t":"2025-04-23T20:00Z","v":35.2,"kind":"up"},
{"t":"2025-04-24T00:00Z","v":24.6,"kind":"up"},{"t":"2025-04-24T04:00Z","v":13.9,"kind":"up"},{"t":"2025-04-24T08:00Z","v":7.4,"kind":"flat"},{"t":"2025-04-24T12:00Z","v":6.6,"kind":"flat"},{"t":"2025-04-24T16:00Z","v":3.3,"kind":"flat"},
{"t":"2025-04-25T08:00Z","v":4.1,"kind":"flat"},{"t":"2025-04-25T12:00Z","v":7.4,"kind":"flat"},{"t":"2025-04-25T16:00Z","v":5.7,"kind":"flat"},
{"t":"2025-04-26T00:00Z","v":5.7,"kind":"flat"},{"t":"2025-04-26T04:00Z","v":6.6,"kind":"flat"},
{"t":"2025-04-26T20:00Z","v":-4.1,"kind":"down"},
{"t":"2025-04-27T00:00Z","v":-7.4,"kind":"down"},{"t":"2025-04-27T04:00Z","v":-10.7,"kind":"down"},{"t":"2025-04-27T08:00Z","v":-13.9,"kind":"down"},{"t":"2025-04-27T12:00Z","v":-20.5,"kind":"down"},{"t":"2025-04-27T16:00Z","v":-19.7,"kind":"down"},{"t":"2025-04-27T20:00Z","v":-23,"kind":"down"},
{"t":"2025-04-28T00:00Z","v":-26.2,"kind":"down"},{"t":"2025-04-28T04:00Z","v":-21.3,"kind":"down"},{"t":"2025-04-28T08:00Z","v":-15.6,"kind":"down"},{"t":"2025-04-28T12:00Z","v":-17.2,"kind":"down"},{"t":"2025-04-28T16:00Z","v":-15.6,"kind":"down"},{"t":"2025-04-28T20:00Z","v":-15.6,"kind":"down"},
{"t":"2025-04-29T00:00Z","v":-15.6,"kind":"down"},{"t":"2025-04-29T04:00Z","v":-12.3,"kind":"down"},{"t":"2025-04-29T08:00Z","v":-12.3,"kind":"down"},{"t":"2025-04-29T12:00Z","v":-14.8,"kind":"down"},{"t":"2025-04-29T16:00Z","v":-17.2,"kind":"down"},{"t":"2025-04-29T20:00Z","v":-20.5,"kind":"down"},
{"t":"2025-04-30T00:00Z","v":-18,"kind":"down"},{"t":"2025-04-30T04:00Z","v":-18.9,"kind":"down"},{"t":"2025-04-30T08:00Z","v":-13.1,"kind":"down"},{"t":"2025-04-30T12:00Z","v":-15.6,"kind":"down"},{"t":"2025-04-30T16:00Z","v":-13.9,"kind":"down"},{"t":"2025-04-30T20:00Z","v":-12.3,"kind":"down"},
{"t":"2025-05-01T00:00Z","v":-11.5,"kind":"down"},{"t":"2025-05-01T04:00Z","v":-10.564,"kind":"down"}]
},
"layer":[
{"layer":[
{"data":{"name":"levels"},"mark":{"type":"rule","strokeWidth":2},
 "encoding":{
  "y":{"field":"price","type":"quantitative","title":null,
   "scale":{"domain":[4.1097,6.6647],"range":[371.5,0],"nice":false,"zero":false},
   "axis":{"orient":"right","title":null,"domain":false,"ticks":false,"grid":true,"gridColor":"#f0f3fa","gridWidth":1.5,"values":[4.5,5,5.5,6,6.5],"labelExpr":"datum.value==5||datum.value==6?format(datum.value,'.3f'):''","labelColor":"#131722","labelFontSize":12,"labelPadding":9}},
  "color":{"condition":{"test":"datum.kind==='blue'","value":"#2962ff"},"value":"#f23645"}}},
{"data":{"name":"ribbon"},"mark":{"type":"area","clip":true,"opacity":0.88,"interpolate":"monotone"},
 "encoding":{
  "x":{"field":"t","type":"temporal","title":null,
   "scale":{"type":"utc","domain":[1743202800000,1746446400000],"padding":0,"nice":false},
   "axis":{"orient":"bottom","title":null,"domain":false,"ticks":false,"grid":true,"gridColor":"#f0f3fa","gridWidth":1.5,"labelColor":"#131722","labelFontSize":12,"labelPadding":8,"labelFlush":false,"labelOverlap":false,
    "values":[1743206400000,1743465600000,1743638400000,1743811200000,1743984000000,1744156800000,1744329600000,1744502400000,1744675200000,1744848000000,1745020800000,1745193600000,1745366400000,1745539200000,1745712000000,1745884800000,1746057600000,1746230400000,1746403200000],
    "labelFontWeight":{"condition":{"test":"utcdate(datum.value)==1&&utcmonth(datum.value)!=2","value":"bold"},"value":"normal"},
    "labelExpr":"utcdate(datum.value)==29&&utcmonth(datum.value)==2?'\u00a0\u00a09':utcdate(datum.value)==1?utcFormat(datum.value,'%b'):''+utcdate(datum.value)"}},
  "y":{"field":"upper","type":"quantitative"},"y2":{"field":"lower"},"detail":{"field":"seg"},
  "color":{"condition":{"test":"datum.dir==='up'","value":"#3dff3d"},"value":"#ff5252"}}},
{"data":{"name":"candles"},"mark":{"type":"rule","strokeWidth":1},
 "encoding":{"x":{"field":"t","type":"temporal"},"y":{"field":"l","type":"quantitative"},"y2":{"field":"h"},
  "color":{"condition":{"test":"datum.c>=datum.o","value":"#26a69a"},"value":"#ef5350"}}},
{"data":{"name":"candles"},"mark":{"type":"bar","width":3.6},
 "encoding":{"x":{"field":"t","type":"temporal"},"y":{"field":"o","type":"quantitative"},"y2":{"field":"c"},
  "color":{"condition":{"test":"datum.c>=datum.o","value":"#26a69a"},"value":"#ef5350"}}},
{"mark":{"type":"rule","stroke":"#ef5350","strokeWidth":1,"strokeDash":[1,3]},"encoding":{"y":{"datum":5.249,"type":"quantitative"}}},
{"mark":{"type":"text","text":"CROWNGIMS published on TradingView.com, May 01, 2025 06:38 UTC","align":"left","baseline":"middle","fontSize":11.9},"encoding":{"x":{"datum":1743202800000,"type":"temporal"},"y":{"datum":6.761,"type":"quantitative"}}},
{"mark":{"type":"text","text":"UNIUSD · Uniswap / U.S. Dollar · 4h · COINBASE","align":"left","baseline":"middle","fontSize":11.2},"encoding":{"x":{"datum":1743221820000,"type":"temporal"},"y":{"datum":6.568,"type":"quantitative"}}},
{"mark":{"type":"text","text":"O","align":"left","baseline":"middle"},"encoding":{"x":{"datum":1743889680000,"type":"temporal"},"y":{"datum":6.568,"type":"quantitative"}}},
{"mark":{"type":"text","text":"5.279","align":"left","baseline":"middle","color":"#f7525f"},"encoding":{"x":{"datum":1743911280000,"type":"temporal"},"y":{"datum":6.568,"type":"quantitative"}}},
{"mark":{"type":"text","text":"H","align":"left","baseline":"middle"},"encoding":{"x":{"datum":1744000920000,"type":"temporal"},"y":{"datum":6.568,"type":"quantitative"}}},
{"mark":{"type":"text","text":"5.308","align":"left","baseline":"middle","color":"#f7525f"},"encoding":{"x":{"datum":1744022520000,"type":"temporal"},"y":{"datum":6.568,"type":"quantitative"}}},
{"mark":{"type":"text","text":"L","align":"left","baseline":"middle"},"encoding":{"x":{"datum":1744114680000,"type":"temporal"},"y":{"datum":6.568,"type":"quantitative"}}},
{"mark":{"type":"text","text":"5.242","align":"left","baseline":"middle","color":"#f7525f"},"encoding":{"x":{"datum":1744131240000,"type":"temporal"},"y":{"datum":6.568,"type":"quantitative"}}},
{"mark":{"type":"text","text":"C","align":"left","baseline":"middle"},"encoding":{"x":{"datum":1744223400000,"type":"temporal"},"y":{"datum":6.568,"type":"quantitative"}}},
{"mark":{"type":"text","text":"5.249","align":"left","baseline":"middle","color":"#f7525f"},"encoding":{"x":{"datum":1744242480000,"type":"temporal"},"y":{"datum":6.568,"type":"quantitative"}}},
{"mark":{"type":"text","text":"−0.029 (−0.55%)","align":"left","baseline":"middle","color":"#f7525f"},"encoding":{"x":{"datum":1744334640000,"type":"temporal"},"y":{"datum":6.568,"type":"quantitative"}}},
{"mark":{"type":"point","shape":"circle","filled":false,"stroke":"#9c27b0","strokeWidth":1.6,"size":360,"opacity":1},"encoding":{"x":{"datum":1746072000000,"type":"temporal"},"y":{"datum":4.202,"type":"quantitative"}}},
{"mark":{"type":"point","shape":"M.12,-.7L-.42,.1L-.06,.1L-.12,.7L.42,-.1L.06,-.1Z","filled":true,"fill":"#9c27b0","size":200,"opacity":1},"encoding":{"x":{"datum":1746072000000,"type":"temporal"},"y":{"datum":4.202,"type":"quantitative"}}},
{"mark":{"type":"tick","orient":"horizontal","size":58,"thickness":26,"color":"#ffffff","stroke":"#f0f3fa","strokeWidth":1.5,"cornerRadius":5,"opacity":1},"encoding":{"x":{"datum":1746530640000,"type":"temporal"},"y":{"datum":6.555,"type":"quantitative"}}},
{"mark":{"type":"text","text":"USD","baseline":"middle"},"encoding":{"x":{"datum":1746507600000,"type":"temporal"},"y":{"datum":6.555,"type":"quantitative"}}},
{"data":{"name":"tags"},"mark":{"type":"tick","orient":"horizontal","size":43,"thickness":17,"cornerRadius":2,"opacity":1},
 "encoding":{"x":{"datum":1746507600000,"type":"temporal"},"y":{"field":"at","type":"quantitative"},
  "color":{"condition":[{"test":"datum.kind==='blue'","value":"#2962ff"},{"test":"datum.kind==='bright'","value":"#ff0000"}],"value":"#f23645"}}},
{"data":{"name":"tags"},"mark":{"type":"text","baseline":"middle","color":"#ffffff"},
 "encoding":{"x":{"datum":1746507600000,"type":"temporal"},"y":{"field":"at","type":"quantitative"},"text":{"field":"label"}}},
{"mark":{"type":"tick","orient":"horizontal","size":48,"thickness":17,"color":"#f15b5c","cornerRadius":2,"opacity":1},"encoding":{"x":{"datum":1746381240000,"type":"temporal"},"y":{"datum":5.249,"type":"quantitative"}}},
{"mark":{"type":"text","text":"UNIUSD","baseline":"middle","color":"#ffffff"},"encoding":{"x":{"datum":1746381240000,"type":"temporal"},"y":{"datum":5.249,"type":"quantitative"}}},
{"mark":{"type":"tick","orient":"horizontal","size":60,"thickness":31,"color":"#f15b5c","cornerRadius":2,"opacity":1},"encoding":{"x":{"datum":1746530640000,"type":"temporal"},"y":{"datum":5.196,"type":"quantitative"}}},
{"mark":{"type":"text","text":"5.249","align":"left","baseline":"middle","color":"#ffffff"},"encoding":{"x":{"datum":1746470880000,"type":"temporal"},"y":{"datum":5.249,"type":"quantitative"}}},
{"mark":{"type":"text","text":"01:21:28","align":"left","baseline":"middle","color":"#fbd0d0"},"encoding":{"x":{"datum":1746470880000,"type":"temporal"},"y":{"datum":5.145,"type":"quantitative"}}}
]},
{"layer":[
{"mark":{"type":"rule","stroke":"#e0e3eb","strokeWidth":1,"strokeDash":[2,2]},
 "encoding":{"y":{"datum":0,"type":"quantitative","title":null,
   "scale":{"domain":[-45.6,44.6],"range":[482,372],"nice":false,"zero":false},
   "axis":{"orient":"right","title":null,"domain":false,"ticks":false,"grid":true,"gridColor":"#f0f3fa","gridWidth":1.5,"values":[-25,25],"labelExpr":"datum.value<0?format(datum.value,'.3f'):''","labelColor":"#131722","labelFontSize":12,"labelPadding":9}}}},
{"data":{"name":"hist"},"mark":{"type":"bar","width":4.2},
 "encoding":{"x":{"field":"t","type":"temporal"},"y":{"field":"v","type":"quantitative"},"y2":{"datum":0},
  "color":{"condition":[{"test":"datum.kind==='up'","value":"#00bfff"},{"test":"datum.kind==='flat'","value":"#8c8c8c"}],"value":"#ff0060"}}},
{"mark":{"type":"rule","stroke":"#f0f3fa","strokeWidth":2.5},"encoding":{"x":{"datum":1743202800000,"type":"temporal"},"y":{"datum":350.3,"type":"quantitative"},"y2":{"datum":-68.5}}},
{"mark":{"type":"rule","stroke":"#f0f3fa","strokeWidth":2.5},"encoding":{"x":{"datum":1746625680000,"type":"temporal"},"y":{"datum":350.3,"type":"quantitative"},"y2":{"datum":-68.5}}},
{"mark":{"type":"rule","stroke":"#f0f3fa","strokeWidth":2.5},"encoding":{"x":{"datum":1743202800000,"type":"temporal"},"x2":{"datum":1746625680000},"y":{"datum":350.3,"type":"quantitative"}}},
{"mark":{"type":"rule","stroke":"#f0f3fa","strokeWidth":2.5},"encoding":{"x":{"datum":1743202800000,"type":"temporal"},"x2":{"datum":1746625680000},"y":{"datum":-68.5,"type":"quantitative"}}},
{"mark":{"type":"rule","stroke":"#e0e3eb","strokeWidth":1.5},"encoding":{"x":{"datum":1743202800000,"type":"temporal"},"x2":{"datum":1746625680000},"y":{"datum":44.6,"type":"quantitative"}}},
{"mark":{"type":"rule","stroke":"#e0e3eb","strokeWidth":1.5},"encoding":{"x":{"datum":1743202800000,"type":"temporal"},"x2":{"datum":1746625680000},"y":{"datum":-45.6,"type":"quantitative"}}},
{"mark":{"type":"rule","stroke":"#e0e3eb","strokeWidth":1.5},"encoding":{"x":{"datum":1746446400000,"type":"temporal"},"y":{"datum":350.3,"type":"quantitative"},"y2":{"datum":-68.5}}},
{"mark":{"type":"tick","orient":"horizontal","size":49,"thickness":17,"color":"#00bfff","cornerRadius":2,"opacity":1},"encoding":{"x":{"datum":1746515160000,"type":"temporal"},"y":{"datum":28.4,"type":"quantitative"}}},
{"mark":{"type":"tick","orient":"horizontal","size":56,"thickness":17,"color":"#ff0060","cornerRadius":2,"opacity":1},"encoding":{"x":{"datum":1746525240000,"type":"temporal"},"y":{"datum":14.5,"type":"quantitative"}}},
{"mark":{"type":"tick","orient":"horizontal","size":56,"thickness":17,"color":"#757575","cornerRadius":2,"opacity":1},"encoding":{"x":{"datum":1746525240000,"type":"temporal"},"y":{"datum":0.7,"type":"quantitative"}}},
{"mark":{"type":"text","text":"14.034","align":"left","baseline":"middle"},"encoding":{"x":{"datum":1746470880000,"type":"temporal"},"y":{"datum":28.4,"type":"quantitative"}}},
{"mark":{"type":"text","text":"−10.564","align":"left","baseline":"middle","color":"#ffffff"},"encoding":{"x":{"datum":1746470880000,"type":"temporal"},"y":{"datum":14.5,"type":"quantitative"}}},
{"mark":{"type":"text","text":"−10.564","align":"left","baseline":"middle","color":"#ffffff"},"encoding":{"x":{"datum":1746470880000,"type":"temporal"},"y":{"datum":0.7,"type":"quantitative"}}},
{"mark":{"type":"text","text":"−13.454","align":"left","baseline":"middle"},"encoding":{"x":{"datum":1746470880000,"type":"temporal"},"y":{"datum":-13.454,"type":"quantitative"}}},
{"mark":{"type":"point","shape":"M-1,-.53L-.12,-.53L-.12,.53L-.65,.53L-.65,-.18L-1,-.18ZM.05,-.53L.32,-.53L.32,-.2L.05,-.2ZM1,-.53L.58,.53L.05,.53L.45,-.53Z","filled":true,"fill":"#131722","size":361,"opacity":1},"encoding":{"x":{"datum":1743228600000,"type":"temporal"},"y":{"datum":-82.5,"type":"quantitative"}}},
{"mark":{"type":"text","text":"TradingView","align":"left","baseline":"middle","fontSize":13},"encoding":{"x":{"datum":1743265200000,"type":"temporal"},"y":{"datum":-82.5,"type":"quantitative"}}}
]}
],
"resolve":{"scale":{"y":"independent"}}
}
